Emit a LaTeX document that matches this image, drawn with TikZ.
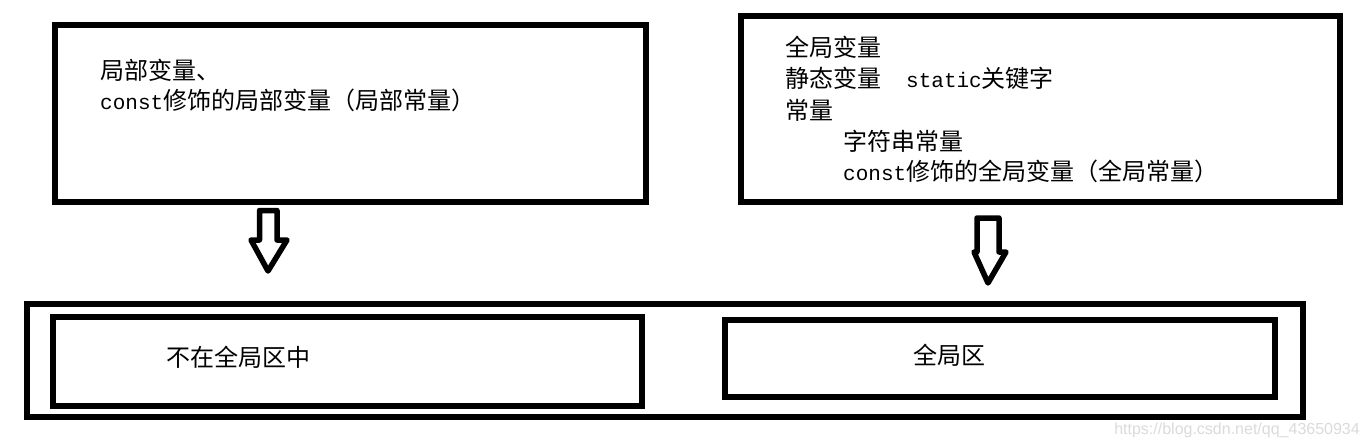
\documentclass[tikz,border=0pt]{standalone}
\usepackage{fontspec}
\setmainfont{Noto Sans CJK SC}
\newfontfamily\monofam{Liberation Mono}
\newfontfamily\wmfam{Liberation Sans}
\newcommand\asc[1]{{\monofam\fontsize{21}{30}\selectfont #1}}
\begin{document}
\begin{tikzpicture}[x=1pt,y=-1pt,
  box/.style={draw=black,line width=6pt,inner sep=0pt,rectangle},
  txt/.style={anchor=base west,inner sep=0pt,font=\fontsize{24}{30}\selectfont},
  arr/.style={draw=black,line width=5.5pt,line join=round,fill=white}]
\useasboundingbox[fill=white] (0,0) rectangle (1369,444);
% boxes
\node[box,minimum width=591pt,minimum height=176.8pt] (tl) at (350.5,113.1) {};
\node[box,minimum width=599pt,minimum height=186pt] (tr) at (1040.5,109) {};
\node[box,minimum width=1276.5pt,minimum height=112.5pt] (outer) at (664.75,360.25) {};
\node[box,minimum width=589.3pt,minimum height=88.5pt] (il) at (347.35,361.5) {};
\node[box,minimum width=550.3pt,minimum height=76.2pt] (ir) at (999.85,358.4) {};
% block arrows
\draw[arr] (259.5,210.5) -- (277,210.5) -- (277,240) -- (287,240) -- (268,271)
  -- (251,240) -- (259.5,240) -- cycle;
\draw[arr] (977,218) -- (999,218) -- (999,252) -- (1006,252) -- (988,283)
  -- (974,252) -- (977,252) -- cycle;
% texts
\node[txt] (l1) at (100,80) {局部变量、};
\node[txt] (l2) at (100,110) {\asc{const}修饰的局部变量（局部常量）};
\node[txt] (r1) at (785,57) {全局变量};
\node[txt] (r2) at (785,88) {静态变量};
\node[txt] (r2b) at (906,88) {\asc{static}关键字};
\node[txt] (r3) at (785,119) {常量};
\node[txt] (r4) at (843,150) {字符串常量};
\node[txt] (r5) at (843,180) {\asc{const}修饰的全局变量（全局常量）};
\node[txt] (b1) at (166,366) {不在全局区中};
\node[txt] (b2) at (913,364) {全局区};
% watermark
\node[anchor=base east,inner sep=0pt,text=black!14,font=\wmfam\fontsize{16}{18}\selectfont] (wm) at (1360,434) {https://blog.csdn.net/qq\_43650934};
\end{tikzpicture}
\end{document}
